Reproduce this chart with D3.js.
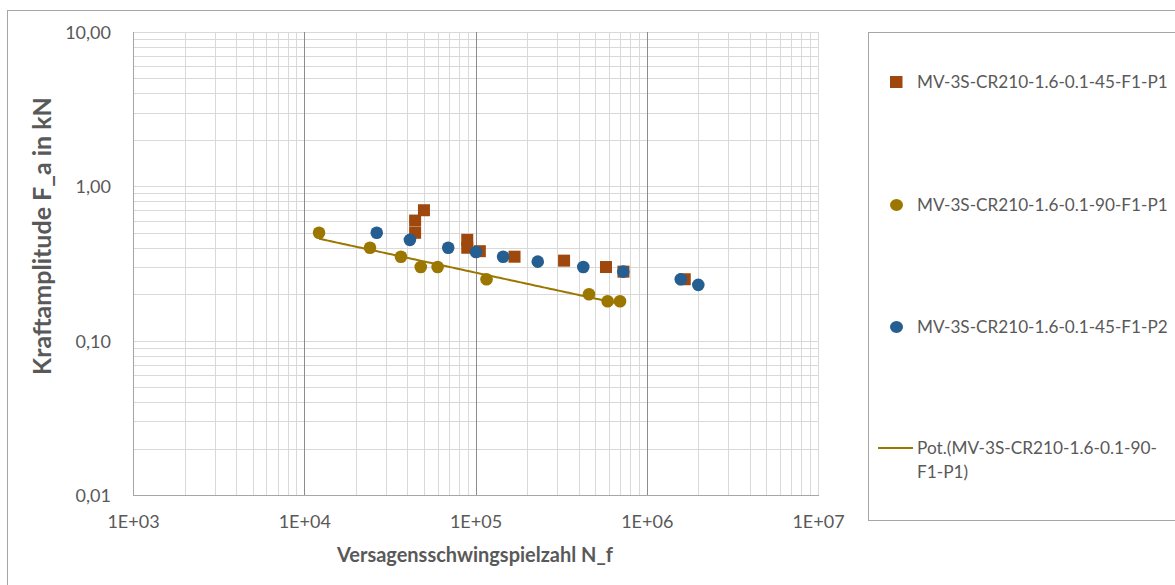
<!DOCTYPE html>
<html><head><meta charset="utf-8">
<script src="https://cdn.jsdelivr.net/npm/d3@7"></script>
<style>body{margin:0;background:#fff}svg{display:block}text{font-family:Lato,"Open Sans",sans-serif;fill:#595959}.tick text{font-size:18px}</style>
</head><body>
<svg id="c" width="1175" height="585"></svg>
<script>
// Data
const p1_45_N = [44400, 44400, 50000, 89500, 89500, 106000, 169000, 329000, 578000, 731000, 1667000];
const p1_45_F = [0.60, 0.50, 0.70, 0.45, 0.40, 0.38, 0.35, 0.33, 0.30, 0.28, 0.25];
const p1_90_N = [12200, 24200, 36700, 47900, 60100, 116000, 460000, 591000, 698000];
const p1_90_F = [0.50, 0.40, 0.35, 0.30, 0.30, 0.25, 0.20, 0.18, 0.18];
const p2_45_N = [26500, 41400, 69300, 100700, 145000, 231000, 426000, 729000, 1580000, 2000000];
const p2_45_F = [0.50, 0.45, 0.40, 0.375, 0.35, 0.325, 0.30, 0.28, 0.25, 0.23];
const xTicks = [1e3, 1e4, 1e5, 1e6, 1e7];
const xTickLabels = ["1E+03", "1E+04", "1E+05", "1E+06", "1E+07"];
const yTicks = [0.01, 0.1, 1, 10];
const yTickLabels = ["0,01", "0,10", "1,00", "10,00"];
const seriesNames = ["MV-3S-CR210-1.6-0.1-45-F1-P1", "MV-3S-CR210-1.6-0.1-90-F1-P1", "MV-3S-CR210-1.6-0.1-45-F1-P2"];
const trendName = ["Pot.(MV-3S-CR210-1.6-0.1-90-", "F1-P1)"];
const xTitle = "Versagensschwingspielzahl N_f";
const yTitle = "Kraftamplitude F_a in kN";

const C_SQ = "#9e480e", C_GOLD = "#9c7700", C_BLUE = "#255e91";
const svg = d3.select("#c");
const L = 133, R = 818, T = 32, B = 495;
const x = d3.scaleLog().domain([1e3, 1e7]).range([L, R]);
const y = d3.scaleLog().domain([0.01, 10]).range([B, T]);

function fit(sel, w) {
  const n = sel.node(); const cur = parseFloat(sel.attr("font-size"));
  const len = n.getComputedTextLength(); sel.attr("font-size", cur * w / len);
}

// outer frame
svg.append("rect").attr("x", 7.5).attr("y", 10.5).attr("width", 1200).attr("height", 600)
  .attr("fill", "none").attr("stroke", "#a6a6a6").attr("stroke-width", 1);

const g = svg.append("g");
// minor grid
const minorX = [], minorY = [];
for (let e = 3; e < 7; e++) for (let k = 2; k <= 9; k++) minorX.push(k * Math.pow(10, e));
for (let e = -2; e < 1; e++) for (let k = 2; k <= 9; k++) minorY.push(k * Math.pow(10, e));
g.selectAll(".mx").data(minorX).join("line").attr("x1", d => Math.round(x(d)) + 0.5).attr("x2", d => Math.round(x(d)) + 0.5)
  .attr("y1", T).attr("y2", B).attr("stroke", "#d9d9d9");
g.selectAll(".my").data(minorY.concat(yTicks)).join("line").attr("y1", d => Math.round(y(d)) + 0.5).attr("y2", d => Math.round(y(d)) + 0.5)
  .attr("x1", L).attr("x2", R).attr("stroke", "#d9d9d9");
g.selectAll(".Mx").data(xTicks.slice(1, 4)).join("line").attr("x1", d => Math.round(x(d)) + 0.5).attr("x2", d => Math.round(x(d)) + 0.5)
  .attr("y1", T).attr("y2", B).attr("stroke", "#8c8c8c");
g.append("line").attr("x1", R + 0.5).attr("x2", R + 0.5).attr("y1", T).attr("y2", B).attr("stroke", "#d9d9d9");
// axes lines
g.append("line").attr("x1", L + 0.5).attr("x2", L + 0.5).attr("y1", T).attr("y2", B + 0.5).attr("stroke", "#a6a6a6");
g.append("line").attr("x1", L).attr("x2", R + 1).attr("y1", B + 0.5).attr("y2", B + 0.5).attr("stroke", "#a6a6a6");

// axis labels via d3 axes (domain hidden)
const ax = svg.append("g").attr("transform", `translate(0,${B})`)
  .call(d3.axisBottom(x).tickValues(xTicks).tickFormat((d, i) => xTickLabels[i]).tickSize(0).tickPadding(0));
ax.select(".domain").remove();
ax.selectAll("text").attr("font-family", "Lato").attr("fill", "#595959").attr("dy", 0).attr("y", 33);
const ay = svg.append("g").attr("transform", `translate(${L},0)`)
  .call(d3.axisLeft(y).tickValues(yTicks).tickFormat((d, i) => yTickLabels[i]).tickSize(0).tickPadding(22));
ay.select(".domain").remove();
ay.selectAll("text").attr("font-family", "Lato").attr("fill", "#595959").attr("dy", "0.36em");

// titles
const xt = svg.append("text").attr("x", (L + R) / 2 - 0.5).attr("y", 562).attr("text-anchor", "middle")
  .attr("font-weight", "bold").attr("font-size", 16).text(xTitle);
fit(xt, 276);
const yt = svg.append("text").attr("transform", "translate(51,236) rotate(-90)").attr("text-anchor", "middle")
  .attr("font-weight", "bold").attr("font-size", 16).text(yTitle);
fit(yt, 278);

// trend line (power regression, as Excel's "Pot." trendline)
const lx = p1_90_N.map(Math.log), ly = p1_90_F.map(Math.log);
const mx = d3.mean(lx), my = d3.mean(ly);
const b = d3.sum(lx.map((v, i) => (v - mx) * (ly[i] - my))) / d3.sum(lx.map(v => (v - mx) ** 2));
const a = Math.exp(my - b * mx);
const [n0, n1] = d3.extent(p1_90_N);
const tr = d3.range(0, 101).map(i => n0 * Math.pow(n1 / n0, i / 100));
svg.append("path").attr("d", d3.line().x(d => x(d)).y(d => y(a * Math.pow(d, b)))(tr))
  .attr("fill", "none").attr("stroke", C_GOLD).attr("stroke-width", 2);

// markers
svg.selectAll(".sq").data(p1_45_N).join("rect").attr("x", d => x(d) - 6).attr("y", (d, i) => y(p1_45_F[i]) - 6)
  .attr("width", 12).attr("height", 12).attr("fill", C_SQ);
svg.selectAll(".gc").data(p1_90_N).join("circle").attr("cx", d => x(d)).attr("cy", (d, i) => y(p1_90_F[i]))
  .attr("r", 6.3).attr("fill", C_GOLD);
svg.selectAll(".bc").data(p2_45_N).join("circle").attr("cx", d => x(d)).attr("cy", (d, i) => y(p2_45_F[i]))
  .attr("r", 6.3).attr("fill", C_BLUE);

// legend
svg.append("rect").attr("x", 868.5).attr("y", 32.5).attr("width", 400).attr("height", 488)
  .attr("fill", "#fff").attr("stroke", "#a6a6a6");
const legY = [82, 205, 327];
svg.append("rect").attr("x", 890).attr("y", legY[0] - 6).attr("width", 12.5).attr("height", 12).attr("fill", C_SQ);
svg.append("ellipse").attr("cx", 896.5).attr("cy", legY[1]).attr("rx", 6.5).attr("ry", 6).attr("fill", C_GOLD);
svg.append("ellipse").attr("cx", 896.5).attr("cy", legY[2]).attr("rx", 6.5).attr("ry", 6).attr("fill", C_BLUE);
seriesNames.forEach((s, i) => {
  const t = svg.append("text").attr("x", 917).attr("y", legY[i]).attr("dy", "0.36em").attr("font-size", 16).text(s);
  fit(t, 251);
});
svg.append("line").attr("x1", 878).attr("x2", 913).attr("y1", 448).attr("y2", 448).attr("stroke", C_GOLD).attr("stroke-width", 2);
const t1 = svg.append("text").attr("x", 917).attr("y", 448).attr("dy", "0.36em").attr("font-size", 16).text(trendName[0]);
fit(t1, 240);
svg.append("text").attr("x", 917).attr("y", 472).attr("dy", "0.36em").attr("font-size", t1.attr("font-size")).text(trendName[1]);
</script>
</body></html>
